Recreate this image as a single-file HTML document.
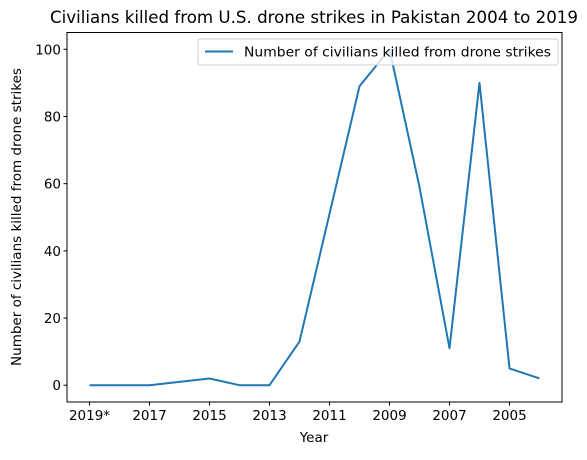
<!DOCTYPE html>
<html><head><meta charset="utf-8"><style>
body{margin:0;background:#fff}
svg text{font-family:"DejaVu Sans","Liberation Sans",sans-serif;fill:#000}
</style></head><body>
<svg id="chart" width="587" height="455" viewBox="0 0 587 455">
<text x="314" y="23" font-size="16.6" text-anchor="middle" textLength="528" lengthAdjust="spacingAndGlyphs">Civilians killed from U.S. drone strikes in Pakistan 2004 to 2019</text>
<g id="plot"></g>
<rect x="67" y="32.5" width="495" height="369.5" fill="none" stroke="#000" stroke-width="1"/>
<text x="314" y="442" font-size="13.5" text-anchor="middle">Year</text>
<text transform="translate(21,217) rotate(-90)" font-size="13.5" text-anchor="middle">Number of civilians killed from drone strikes</text>
<g>
<rect x="198" y="39" width="360" height="26" rx="2" fill="#fff" fill-opacity="0.8" stroke="#ccc"/>
<line x1="205" y1="51.5" x2="233" y2="51.5" stroke="#1f77b4" stroke-width="2"/>
<text x="244" y="56.5" font-size="13.5" textLength="307" lengthAdjust="spacingAndGlyphs">Number of civilians killed from drone strikes</text>
</g>
</svg>
<script>
const categories = ["2019*","2018","2017","2016","2015","2014","2013","2012","2011","2010","2009","2008","2007","2006","2005","2004"];
const values = [0,0,0,1,2,0,0,13,51,89,100,59,11,90,5,2];
const xTickLabels = ["2019*","2017","2015","2013","2011","2009","2007","2005"];
const yTicks = [0,20,40,60,80,100];
const L=67,R=562,T=32.5,B=402;
const n=categories.length;
const x=i=>L+(i+0.75)*(R-L)/(n-1+1.5);
const y=v=>B-(v+5)*(B-T)/110;
const g=document.getElementById('plot');
const NS="http://www.w3.org/2000/svg";
function mk(t,a){const e=document.createElementNS(NS,t);for(const k in a)e.setAttribute(k,a[k]);g.appendChild(e);return e;}
yTicks.forEach(v=>{
  const t=mk('line',{x1:L-3.5,x2:L,y1:y(v),y2:y(v),stroke:'#000'});
  
  
  const l=mk('text',{x:L-6,y:y(v)+5,'font-size':13.5,'text-anchor':'end'});
  l.textContent=v;
  
  
});
xTickLabels.forEach(lab=>{
  const i=categories.indexOf(lab);
  const t=mk('line',{x1:x(i),x2:x(i),y1:B,y2:B+3.5,stroke:'#000'});
  
  
  const l=mk('text',{x:x(i),y:B+18,'font-size':13.5,'text-anchor':'middle'});
  l.textContent=lab;
  
  
});
const p=mk('polyline',{points:values.map((v,i)=>x(i)+','+y(v)).join(' '),fill:'none',stroke:'#1f77b4','stroke-width':2,'stroke-linejoin':'round'});


</script>
</body></html>
